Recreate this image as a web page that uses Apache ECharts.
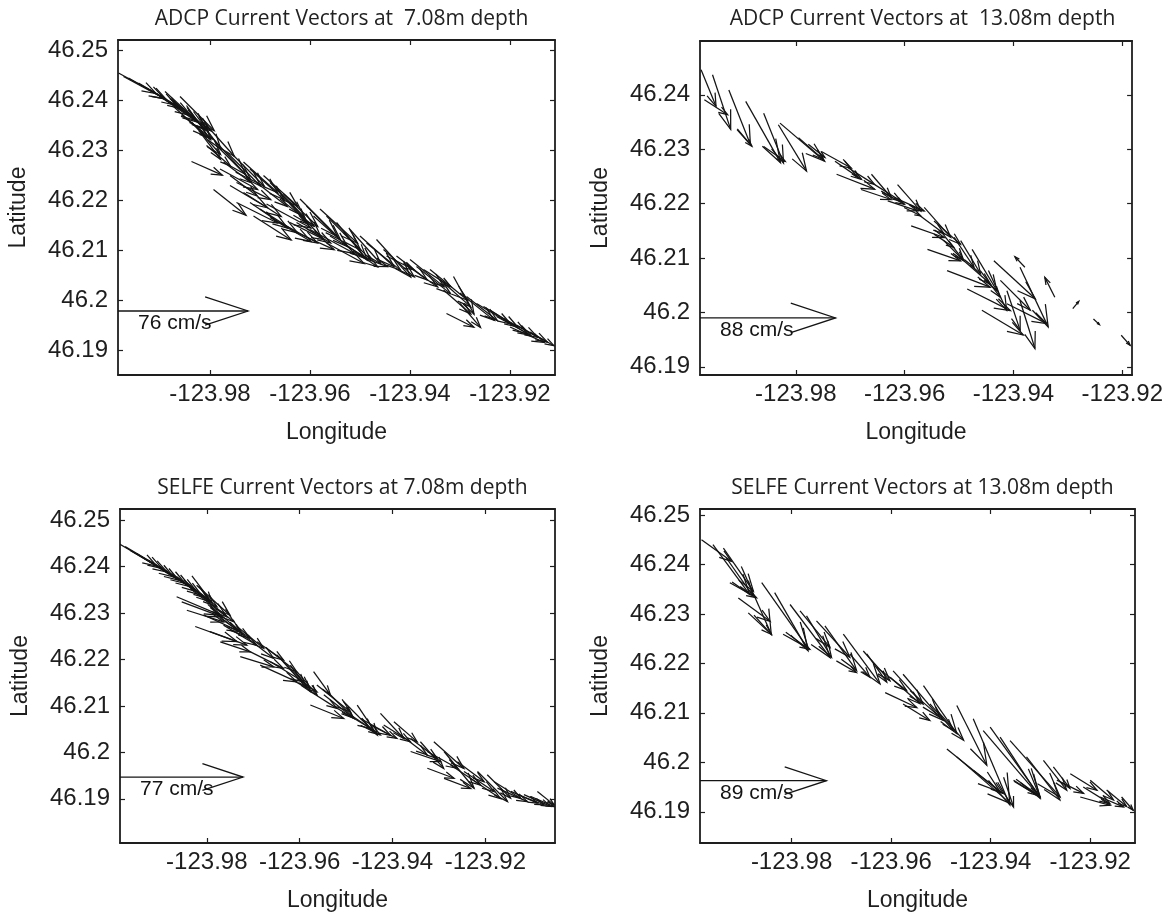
<!DOCTYPE html>
<html><head><meta charset="utf-8">
<script src="https://cdn.jsdelivr.net/npm/echarts@6.0.0/dist/echarts.min.js"></script>
<style>html,body{margin:0;padding:0;background:#fff}#c{width:1166px;height:914px}</style>
</head><body><div id="c"></div>
<script>
// ---------------- data ----------------
const titles = ['ADCP Current Vectors at  7.08m depth','ADCP Current Vectors at  13.08m depth',
                'SELFE Current Vectors at 7.08m depth','SELFE Current Vectors at 13.08m depth'];
const xTickValues = [-123.98,-123.96,-123.94,-123.92];
const yTickValues = [46.19,46.20,46.21,46.22,46.23,46.24,46.25];
const lonMin = [-123.9984,-123.9976,-123.9987,-123.9984];
const lonMax = [-123.911,-123.9182,-123.905,-123.911];
const latMin = [46.185,46.1885,46.1805,46.1837];
const latMax = [46.252,46.2499,46.2524,46.2512];
// reference (scale) arrow: speed in cm/s, drawn length in degrees, latitude
const refSpeed = [76,88,77,89];
const refLenDeg = [0.026,0.0249,0.0265,0.0254];
const refLat = [46.1978,46.199,46.1947,46.1963];

// Panel 1: ADCP 7.08 m  (tail lon, tail lat, u east cm/s, v north cm/s)
const p1Lon = [-123.9983,-123.9963,-123.9943,-123.9920,-123.9900,-123.9890,-123.9867,-123.9847,-123.9857,-123.9837,-123.9820,-123.9797,-123.9837,-123.9793,-123.9767,-123.9733,-123.9760,-123.9713,-123.9693,-123.9667,-123.9687,-123.9653,-123.9620,-123.9600,-123.9580,-123.9627,-123.9547,-123.9533,-123.9520,-123.9500,-123.9467,-123.9447,-123.9427,-123.9400,-123.9373,-123.9360,-123.9313,-123.9327,-123.9300,-123.9267,-123.9240,-123.9213,-123.9187,-123.9160,-123.9300,
  -123.9973,-123.9927,-123.9907,-123.9880,-123.9873,-123.9860,-123.9833,-123.9813,-123.9807,-123.9787,-123.9773,-123.9753,-123.9720,-123.9707,-123.9680,-123.9660,-123.9640,-123.9607,-123.9593,-123.9567,-123.9560,-123.9520,-123.9487,-123.9453,-123.9413,-123.9387,-123.9340,-123.9287,-123.9253,-123.9333,-123.9227,-123.9200,-123.9533,-123.9640,-123.9747,
  -123.9780,-123.9760,-123.9733,-123.9747,-123.9720,-123.9700,-123.9680,-123.9660,-123.9567,-123.9627];
const p1Lat = [46.2454,46.2444,46.2434,46.2420,46.2407,46.2417,46.2393,46.2389,46.2370,46.2356,46.2336,46.2326,46.2277,46.2221,46.2296,46.2276,46.2249,46.2168,46.2249,46.2222,46.2192,46.2212,46.2202,46.2141,46.2182,46.2155,46.2155,46.2135,46.2094,46.2128,46.2121,46.2088,46.2088,46.2081,46.2061,46.2061,46.2047,46.1973,46.2014,46.1993,46.1980,46.1963,46.1950,46.1936,46.1993,
  46.2447,46.2424,46.2413,46.2403,46.2387,46.2407,46.2377,46.2356,46.2309,46.2309,46.2276,46.2289,46.2262,46.2235,46.2235,46.2202,46.2195,46.2188,46.2168,46.2168,46.2128,46.2141,46.2114,46.2101,46.2074,46.2067,46.2041,46.2007,46.1987,46.2020,46.1967,46.1946,46.2114,46.2155,46.2235,
  46.2262,46.2229,46.2215,46.2195,46.2195,46.2182,46.2165,46.2155,46.2114,46.2135];
const p1U = [22,22,22,24,22,25,20,14,18,17,12,20,18,19,20,20,16,22,20,18,26,20,22,26,22,20,18,16,22,20,20,16,18,20,16,22,12,16,20,20,22,20,18,14,12,
  24,20,24,22,20,20,16,18,14,20,16,18,20,18,20,20,18,20,20,20,20,18,20,18,20,20,18,18,20,16,20,20,20,20,20,
  22,22,22,24,22,22,24,22,22,22];
const p1V = [-12,-12.4,-13,-15,-15,-23,-16,-20,-14,-19,-16,-22,-8,-15,-20,-18,-12,-14,-18,-20,-14,-19,-22,-14,-20,-12,-22,-16,-8,-18,-22,-8,-14,-16,-10,-18,-22,-8,-16,-12,-14,-11,-10,-8,-14,
  -13,-12,-16,-19,-18,-20,-22,-20,-12,-20,-12,-18,-18,-14,-20,-16,-20,-20,-18,-20,-12,-20,-16,-16,-14,-16,-16,-14,-12,-14,-11,-9,-14,-10,-10,
  -12,-13,-14,-12,-15,-14,-14,-12,-12,-10];

// Panel 2: ADCP 13.08 m
const p2Lon = [-123.9974,-123.9953,-123.9968,-123.9923,-123.9908,-123.9892,-123.9859,-123.9859,-123.9832,-123.9829,-123.9795,-123.9777,-123.9728,-123.9710,-123.9725,-123.9680,-123.9661,-123.9631,-123.9613,-123.9601,-123.9564,-123.9588,-123.9558,-123.9534,-123.9509,-123.9476,-123.9522,-123.9485,-123.9458,-123.9446,-123.9436,-123.9412,-123.9388,-123.9388,-123.9379,-123.9324,-123.9291,-123.9253,-123.9202,-123.9412,-123.9497,-123.9546,
  -123.9753,-123.9704,-123.9655,-123.9643,-123.9619,-123.9576,-123.9546,-123.9528,-123.9491,-123.9461,-123.9424];
const p2Lat = [46.2446,46.2437,46.2391,46.2409,46.2336,46.2388,46.2366,46.2305,46.2345,46.2348,46.2321,46.2309,46.2278,46.2278,46.2254,46.2226,46.2254,46.2205,46.2235,46.2193,46.2193,46.2159,46.2116,46.2150,46.2138,46.2116,46.2077,46.2043,46.2004,46.2077,46.2095,46.2040,46.2022,46.2083,46.2083,46.2028,46.2007,46.1988,46.1958,46.2016,46.2132,46.2144,
  46.2296,46.2266,46.2235,46.2223,46.2211,46.2181,46.2168,46.2132,46.2095,46.2077,46.2059];
const p2U = [9.7,11.8,15.1,14,9.7,22.6,12.9,14,18.3,29,16.1,10.8,17.2,8.6,24.7,19.4,12.9,19.4,15.1,10.8,17.2,21.5,21.5,15.1,12.9,16.1,28,28,26.9,11.8,26.9,8.6,9.7,18.3,-6.5,-6.5,3.9,3.9,5.8,25.8,12.9,12.9,
  19.4,17.2,17.2,15.1,19.4,17.2,17.2,12.9,17.2,12.9,19.4];
const p2V = [-23.7,-35.5,-9.7,-35.5,-10.8,-39.8,-32.3,-9.7,-30.1,-24.7,-14,-8.6,-11.8,-10.8,-9.7,-6.5,-15.1,-6.5,-17.2,-5.4,-19.4,-7.5,-7.5,-19.4,-19.4,-26.9,-10.8,-14,-16.1,-25.8,-24.7,-25.8,-31.2,-38.7,6.9,12.9,4.7,-3.7,-6.5,-12.9,-21.5,-8.6,
  -10.8,-10.8,-10.8,-8.6,-8.6,-12.9,-15.1,-12.9,-15.1,-17.2,-19.4];

// Panel 3: SELFE 7.08 m
const p3Lon = [-123.9987,-123.9965,-123.9940,-123.9915,-123.9890,-123.9865,-123.9832,-123.9865,-123.9843,-123.9825,-123.9822,-123.9793,-123.9771,-123.9735,-123.9771,-123.9728,-123.9692,-123.9671,-123.9649,-123.9620,-123.9685,-123.9570,-123.9577,-123.9563,-123.9541,-123.9505,-123.9476,-123.9469,-123.9426,-123.9397,-123.9361,-123.9361,-123.9340,-123.9311,-123.9325,-123.9289,-123.9260,-123.9246,-123.9217,-123.9196,-123.9174,-123.9145,-123.9117,-123.9088,-123.9289,-123.9606,
  -123.9976,-123.9951,-123.9926,-123.9901,-123.9876,-123.9850,-123.9836,-123.9814,-123.9854,-123.9807,-123.9786,-123.9764,-123.9793,-123.9721,-123.9707,-123.9663,-123.9635,-123.9606,-123.9548,-123.9519,-123.9491,-123.9448,-123.9419,-123.9383,-123.9325,-123.9275,-123.9232,-123.9181,-123.9131,-123.9102,-123.9577];
const p3Lat = [46.2448,46.2435,46.2421,46.2407,46.2392,46.2378,46.2380,46.2335,46.2306,46.2271,46.2360,46.2317,46.2289,46.2271,46.2238,46.2206,46.2238,46.2224,46.2210,46.2188,46.2188,46.2174,46.2102,46.2145,46.2131,46.2109,46.2102,46.2073,46.2084,46.2066,46.2030,46.2002,46.2023,46.2023,46.1966,46.2002,46.1980,46.1959,46.1959,46.1952,46.1923,46.1916,46.1909,46.1916,46.1944,46.2159,
  46.2443,46.2428,46.2414,46.2400,46.2385,46.2371,46.2353,46.2339,46.2324,46.2296,46.2303,46.2274,46.2260,46.2253,46.2217,46.2195,46.2195,46.2174,46.2124,46.2095,46.2081,46.2059,46.2059,46.2038,46.2002,46.1973,46.1944,46.1937,46.1909,46.1905,46.2131];
const p3U = [23,23,23,23,23,20.9,12.6,27.2,23,26.2,20.9,18.8,18.8,16.7,18.8,20.9,16.7,18.8,18.8,12.6,23,10.5,20.9,20.9,16.7,18.8,12.6,18.8,14.6,14.6,16.7,18.8,14.6,18.8,16.7,18.8,16.7,18.8,18.8,14.6,18.8,16.7,16.7,10.5,16.7,12.6,
  23,23,23,23,23,20.9,23,20.9,25.1,23,18.8,20.9,23,18.8,20.9,20.9,16.7,12.6,18.8,20.9,18.8,16.7,16.7,16.7,18.8,18.8,18.8,16.7,16.7,14.6,16.7];
const p3V = [-13.6,-13.6,-14.6,-14.6,-15.7,-15.7,-16.7,-11.5,-7.3,-9.4,-18.8,-16.7,-12.6,-13.6,-6.3,-6.3,-11.5,-14.6,-20.9,-16.7,-10.5,-14.6,-8.4,-16.7,-16.7,-18.8,-18.8,-10.5,-15.7,-12.6,-12.6,-6.3,-16.7,-16.7,-6.3,-23,-12.6,-12.6,-18.8,-14.6,-8.4,-7.3,-7.3,-8.4,-6.3,-8.4,
  -13.6,-14.6,-14.6,-15.7,-15.7,-16.7,-17.8,-16.7,-9.4,-10.5,-14.6,-12.6,-8.4,-14.6,-10.5,-12.6,-16.7,-14.6,-14.6,-12.6,-12.6,-8.4,-10.5,-12.6,-10.5,-12.6,-12.6,-10.5,-6.3,-6.3,-10.5];

// Panel 4: SELFE 13.08 m
const p4Lon = [-123.9981,-123.9958,-123.9931,-123.9901,-123.9924,-123.9907,-123.9887,-123.9937,-123.9860,-123.9834,-123.9817,-123.9803,-123.9770,-123.9733,-123.9696,-123.9710,-123.9683,-123.9649,-123.9629,-123.9612,-123.9596,-123.9576,-123.9535,-123.9576,-123.9522,-123.9468,-123.9488,-123.9468,-123.9435,-123.9435,-123.9401,-123.9374,-123.9381,-123.9361,-123.9328,-123.9294,-123.9354,-123.9274,-123.9240,-123.9220,-123.9200,-123.9167,-123.9137,-123.9415,
  -123.9750,-123.9656,-123.9602,-123.9562,-123.9508,-123.9267,-123.9214,-123.9180,-123.9783];
const p4Lat = [46.2450,46.2440,46.2413,46.2396,46.2363,46.2332,46.2302,46.2433,46.2363,46.2343,46.2259,46.2319,46.2296,46.2276,46.2259,46.2205,46.2219,46.2219,46.2192,46.2141,46.2185,46.2178,46.2155,46.2118,46.2118,46.2115,46.2027,46.2011,46.2088,46.1984,46.2071,46.1970,46.2051,46.2044,46.2011,46.2004,46.1964,46.1991,46.1977,46.1930,46.1964,46.1944,46.1930,46.2064,
  46.2286,46.2225,46.2172,46.2145,46.2105,46.1964,46.1950,46.1930,46.2306];
const p4U = [21.1,25.8,18.8,21.1,18.8,22.3,16.4,21.1,32.9,23.5,18.8,28.2,17.6,22.3,25.8,14.1,14.1,14.1,21.1,22.3,21.1,25.8,23.5,18.8,16.4,21.1,37.6,37.6,25.8,21.1,35.2,7,28.2,35.2,23.5,16.4,16.4,11.7,18.8,21.1,16.4,14.1,8.2,39.9,
  23.5,18.8,21.1,23.5,18.8,18.8,18.8,16.4,21.1];
const p4V = [-15.3,-35.2,-27,-48.1,-10.6,-16.4,-15.3,-30.5,-46.9,-41.1,-10.6,-37.6,-29.3,-31.7,-35.2,-8.2,-16.4,-20,-16.4,-10.6,-23.5,-30.5,-34,-11.7,-18.8,-42.3,-30.5,-32.9,-61,-16.4,-49.3,-21.1,-43.4,-39.9,-30.5,-21.1,-10.6,-15.3,-11.7,-5.9,-14.1,-11.7,-9.4,-46.9,
  -25.8,-21.1,-18.8,-21.1,-21.1,-9.4,-11.7,-7,-25.8];

const panelLon = [p1Lon,p2Lon,p3Lon,p4Lon];
const panelLat = [p1Lat,p2Lat,p3Lat,p4Lat];
const panelU = [p1U,p2U,p3U,p4U];
const panelV = [p1V,p2V,p3V,p4V];

// ---------------- layout / style ----------------
const grids = [
  {left:118, top:40, width:437, height:335},
  {left:700, top:41, width:435, height:334},
  {left:120, top:509, width:435, height:334},
  {left:700, top:509, width:435, height:334}
];
const titleTop = [4, 4, 473, 473];
const FONT = "'Liberation Sans', Arial, sans-serif";
const INK = '#141414';
const AXC = '#1e1e1e';

function fmt(v){ return String(Math.round(v*100)/100); }

function arrowChildren(api, lon, lat, u, v, k, lw){
  const s = api.coord([lon, lat]);
  const e = api.coord([lon + u*k, lat + v*k]);
  const dx = e[0]-s[0], dy = e[1]-s[1];
  const a = 0.33, b = 0.33;
  const h1 = [e[0] - a*(dx + b*dy), e[1] - a*(dy - b*dx)];
  const h2 = [e[0] - a*(dx - b*dy), e[1] - a*(dy + b*dx)];
  const st = {stroke: INK, lineWidth: lw, fill: 'none'};
  return [
    {type:'polyline', shape:{points:[s,e]}, style:st},
    {type:'polyline', shape:{points:[h1,e,h2]}, style:st}
  ];
}

const xAxes = [], yAxes = [], series = [], titleOpts = [];
for (let i = 0; i < 4; i++) {
  const xt = xTickValues.filter(t => t >= lonMin[i] && t <= lonMax[i]);
  const yt = yTickValues.filter(t => t >= latMin[i]-1e-9 && t <= latMax[i]);
  const base = {
    gridIndex:i, type:'value', min:lonMin[i], max:lonMax[i],
    axisLine:{show:true, onZero:false, lineStyle:{color:AXC, width:1.8}},
    axisTick:{show:true, inside:true, length:5, customValues:xt, lineStyle:{color:AXC, width:1.2}},
    splitLine:{show:false}
  };
  xAxes.push(Object.assign({}, base, {
    position:'bottom',
    axisLabel:{show:true, customValues:xt, formatter:fmt, fontSize:24, color:AXC, fontFamily:FONT, margin:7},
    name:'Longitude', nameLocation:'middle', nameGap:46,
    nameTextStyle:{fontSize:23, color:AXC, fontFamily:FONT}
  }));
  xAxes.push(Object.assign({}, base, {position:'top', axisLabel:{show:false}}));
  const ybase = {
    gridIndex:i, type:'value', min:latMin[i], max:latMax[i],
    axisLine:{show:true, onZero:false, lineStyle:{color:AXC, width:1.8}},
    axisTick:{show:true, inside:true, length:5, customValues:yt, lineStyle:{color:AXC, width:1.2}},
    splitLine:{show:false}
  };
  yAxes.push(Object.assign({}, ybase, {
    position:'left',
    axisLabel:{show:true, customValues:yt, formatter:fmt, fontSize:24, color:AXC, fontFamily:FONT, margin:10},
    name:'Latitude', nameLocation:'middle', nameGap:88,
    nameTextStyle:{fontSize:23, color:AXC, fontFamily:FONT}
  }));
  yAxes.push(Object.assign({}, ybase, {position:'right', axisLabel:{show:false}}));

  const k = refLenDeg[i] / refSpeed[i];
  const rows = panelLon[i].map((lo, j) => [lo, panelLat[i][j], panelU[i][j], panelV[i][j]]);
  series.push({
    type:'custom', xAxisIndex:2*i, yAxisIndex:2*i, clip:true, silent:true,
    data: rows,
    renderItem: function(params, api){
      return {type:'group', children: arrowChildren(api, api.value(0), api.value(1), api.value(2), api.value(3), k, 1.25)};
    }
  });
  series.push({
    type:'custom', xAxisIndex:2*i, yAxisIndex:2*i, clip:true, silent:true,
    data: [[lonMin[i], refLat[i], refSpeed[i], 0]],
    renderItem: function(params, api){
      const ch = arrowChildren(api, api.value(0), api.value(1), api.value(2), api.value(3), k, 1.3);
      const s = api.coord([api.value(0), api.value(1)]);
      ch.push({type:'text', x:s[0]+20, y:s[1]+2,
        style:{text: api.value(2) + ' cm/s', fontSize:21, fontFamily:FONT, fill:INK, align:'left', verticalAlign:'top'}});
      return {type:'group', children: ch};
    }
  });
  titleOpts.push({
    text: titles[i], left: grids[i].left + grids[i].width/2, top: titleTop[i], textAlign:'center',
    textStyle:{fontFamily:"'Open Sans', sans-serif", fontSize:21, fontWeight:'normal', color:'#222'}
  });
}

const chart = echarts.init(document.getElementById('c'), null, {renderer:'canvas'});
chart.setOption({
  backgroundColor:'#fff',
  animation:false,
  title: titleOpts,
  grid: grids,
  xAxis: xAxes,
  yAxis: yAxes,
  series: series
});
</script>
</body></html>
